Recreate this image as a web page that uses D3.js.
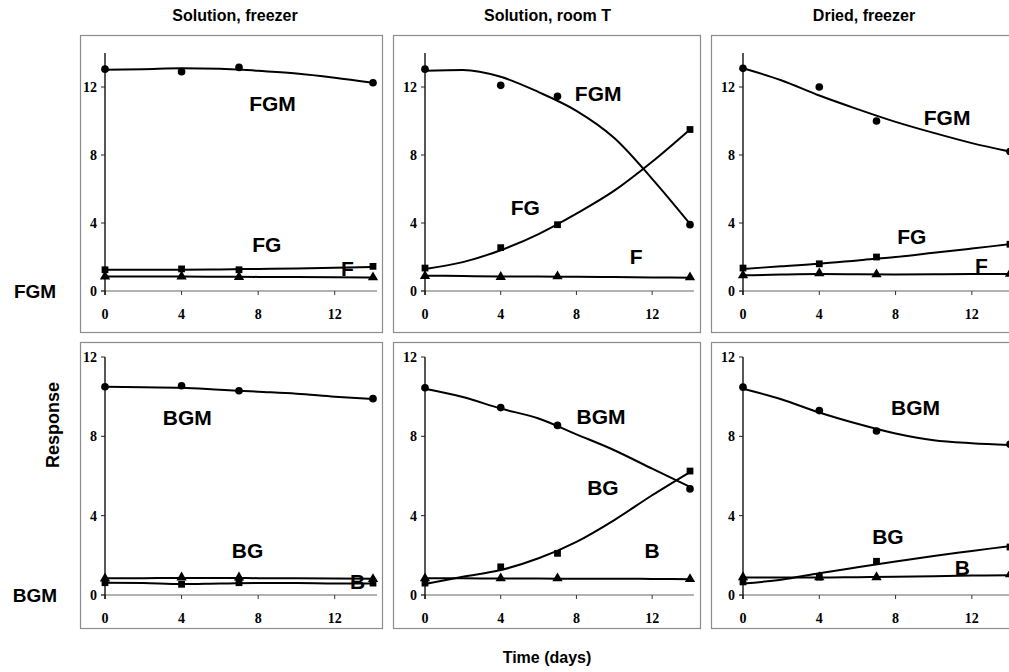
<!DOCTYPE html>
<html>
<head>
<meta charset="utf-8">
<script src="https://cdn.jsdelivr.net/npm/d3@7"></script>
<style>
  html, body { margin: 0; padding: 0; background: #fff; }
  svg { display: block; }
</style>
</head>
<body>
<svg id="chart" width="1009" height="672"></svg>
<script>
// sampling days of the measurements, and days at which the fitted curves were read
const days = [0, 4, 7, 14];
const fitDays = [0, 2, 4, 6, 8, 10, 12, 14];
const xTicks = [0, 4, 8, 12];
const yTicks = [0, 4, 8, 12];

const titles = ["Solution, freezer", "Solution, room T", "Dried, freezer"];
const rowNames = ["FGM", "BGM"];
const seriesNames = [["FGM", "FG", "F"], ["BGM", "BG", "B"]];

// FGM row: measured points [trisaccharide, disaccharide, mono]
const fgmSolFreezer = [[13.05, 12.9, 13.15, 12.25], [1.25, 1.3, 1.25, 1.45], [0.85, 0.85, 0.82, 0.8]];
const fgmSolRoom    = [[13.05, 12.1, 11.45, 3.9], [1.35, 2.55, 3.9, 9.5], [0.88, 0.82, 0.86, 0.8]];
const fgmDried      = [[13.1, 12.0, 10.0, 8.2], [1.35, 1.6, 2.0, 2.75], [0.92, 1.04, 0.98, 1.02]];
// FGM row: fitted curves at fitDays
const fgmSolFreezerFit = [[13.02, 13.05, 13.1, 13.08, 12.95, 12.8, 12.55, 12.25], [1.25, 1.25, 1.25, 1.27, 1.3, 1.33, 1.37, 1.42], [0.85, 0.85, 0.85, 0.84, 0.83, 0.82, 0.81, 0.8]];
const fgmSolRoomFit    = [[12.95, 13.0, 12.6, 11.7, 10.6, 9.0, 6.6, 3.95], [1.3, 1.7, 2.4, 3.35, 4.55, 5.9, 7.6, 9.5], [0.9, 0.88, 0.86, 0.85, 0.84, 0.82, 0.8, 0.78]];
const fgmDriedFit      = [[13.1, 12.4, 11.5, 10.7, 9.95, 9.3, 8.7, 8.2], [1.3, 1.45, 1.6, 1.8, 2.0, 2.25, 2.5, 2.75], [0.92, 0.97, 1.0, 0.98, 0.97, 0.98, 1.0, 1.0]];

// BGM row: measured points
const bgmSolFreezer = [[10.5, 10.55, 10.3, 9.9], [0.62, 0.54, 0.62, 0.6], [0.83, 0.88, 0.88, 0.8]];
const bgmSolRoom    = [[10.45, 9.45, 8.55, 5.35], [0.6, 1.42, 2.1, 6.25], [0.84, 0.84, 0.84, 0.8]];
const bgmDried      = [[10.48, 9.3, 8.27, 7.6], [0.66, 0.9, 1.7, 2.42], [0.9, 0.9, 0.9, 1.04]];
// BGM row: fitted curves
const bgmSolFreezerFit = [[10.5, 10.47, 10.45, 10.35, 10.25, 10.15, 10.0, 9.88], [0.62, 0.6, 0.55, 0.58, 0.6, 0.6, 0.58, 0.58], [0.85, 0.85, 0.86, 0.86, 0.85, 0.84, 0.83, 0.82]];
const bgmSolRoomFit    = [[10.4, 9.98, 9.4, 8.9, 8.1, 7.3, 6.37, 5.45], [0.55, 0.92, 1.26, 1.85, 2.68, 3.78, 5.03, 6.2], [0.84, 0.84, 0.83, 0.83, 0.82, 0.82, 0.81, 0.8]];
const bgmDriedFit      = [[10.4, 9.87, 9.2, 8.63, 8.14, 7.8, 7.65, 7.56], [0.58, 0.77, 1.1, 1.4, 1.69, 1.97, 2.22, 2.47], [0.88, 0.88, 0.88, 0.9, 0.92, 0.95, 0.98, 1.0]];

// where the series names sit, in [day, response]
const fgmLabelAt = [
  [[8.75, 11.06], [8.45, 2.76], [12.66, 1.35]],
  [[9.15, 11.65], [5.3, 4.94], [11.16, 2.06]],
  [[10.7, 10.2], [8.85, 3.2], [12.5, 1.5]]
];
const bgmLabelAt = [
  [[4.3, 8.94], [7.45, 2.27], [13.2, 0.66]],
  [[9.3, 9.0], [9.4, 5.4], [12.0, 2.27]],
  [[9.05, 9.44], [7.6, 2.93], [11.5, 1.41]]
];

const points = [[fgmSolFreezer, fgmSolRoom, fgmDried], [bgmSolFreezer, bgmSolRoom, bgmDried]];
const fits = [[fgmSolFreezerFit, fgmSolRoomFit, fgmDriedFit], [bgmSolFreezerFit, bgmSolRoomFit, bgmDriedFit]];
const labelAt = [fgmLabelAt, bgmLabelAt];

// layout
const cols = [
  {fx0: 80, fx1: 382, x0: 105, x1: 373},
  {fx0: 393, fx1: 700, x0: 425, x1: 690},
  {fx0: 711, fx1: 1040, x0: 743, x1: 1010}
];
const rows = [
  {fy0: 35, fy1: 332, y0: 291, y1: 53, ymax: 14},
  {fy0: 342, fy1: 628, y0: 595, y1: 357, ymax: 12}
];

const sans = "'Liberation Sans', Arial, sans-serif";
const serif = "'Liberation Serif', 'Times New Roman', serif";

const svg = d3.select("#chart");

const symbols = [d3.symbolCircle, d3.symbolSquare, d3.symbolTriangle];
const symbolSize = [46, 46, 46];

rows.forEach((r, ri) => {
  cols.forEach((c, ci) => {
    const x = d3.scaleLinear().domain([0, 14]).range([c.x0, c.x1]);
    const y = d3.scaleLinear().domain([0, r.ymax]).range([r.y0, r.y1]);
    const g = svg.append("g");

    g.append("rect")
        .attr("x", c.fx0 + 0.5).attr("y", r.fy0 + 0.5)
        .attr("width", c.fx1 - c.fx0).attr("height", r.fy1 - r.fy0)
        .attr("fill", "none").attr("stroke", "#8c8c8c").attr("stroke-width", 1.2);

    // x axis
    g.append("line")
        .attr("x1", x(0) - 4).attr("x2", x(14) + 4)
        .attr("y1", y(0)).attr("y2", y(0))
        .attr("stroke", "#666").attr("stroke-width", 1.2);
    g.selectAll(".xt").data(xTicks).join("line")
        .attr("x1", d => x(d)).attr("x2", d => x(d))
        .attr("y1", y(0)).attr("y2", y(0) + 4)
        .attr("stroke", "#333").attr("stroke-width", 1);
    g.selectAll(".xl").data(xTicks).join("text")
        .attr("x", d => x(d)).attr("y", y(0) + 28)
        .attr("text-anchor", "middle")
        .attr("font-family", serif).attr("font-weight", "bold").attr("font-size", 14)
        .text(d => d);

    // y axis
    g.append("line")
        .attr("x1", x(0)).attr("x2", x(0))
        .attr("y1", y(0) + 4).attr("y2", y(r.ymax))
        .attr("stroke", "#111").attr("stroke-width", 1.4);
    g.selectAll(".yt").data(yTicks).join("line")
        .attr("x1", x(0) - 4).attr("x2", x(0))
        .attr("y1", d => y(d)).attr("y2", d => y(d))
        .attr("stroke", "#222").attr("stroke-width", 1);
    g.selectAll(".yl").data(yTicks).join("text")
        .attr("x", x(0) - 8).attr("y", d => y(d) + 5)
        .attr("text-anchor", "end")
        .attr("font-family", serif).attr("font-weight", "bold").attr("font-size", 14)
        .text(d => d);

    // fitted curves
    const line = d3.line()
        .x((d, i) => x(fitDays[i]))
        .y(d => y(d))
        .curve(d3.curveMonotoneX);
    fits[ri][ci].forEach(f => {
      g.append("path")
          .attr("d", line(f))
          .attr("fill", "none").attr("stroke", "#000").attr("stroke-width", 2);
    });

    // measured points
    points[ri][ci].forEach((s, si) => {
      g.selectAll(null).data(s).join("path")
          .attr("transform", (d, i) => `translate(${x(days[i])},${y(d)})`)
          .attr("d", d3.symbol(symbols[si], symbolSize[si]))
          .attr("fill", "#000");
    });

    // series names
    labelAt[ri][ci].forEach((p, si) => {
      g.append("text")
          .attr("x", x(p[0])).attr("y", y(p[1]))
          .attr("dy", "0.36em")
          .attr("text-anchor", "middle")
          .attr("font-family", sans).attr("font-weight", "bold").attr("font-size", 21)
          .text(seriesNames[ri][si]);
    });
  });
});

// column titles
svg.selectAll(".title").data(titles).join("text")
    .attr("x", (d, i) => (cols[i].x0 + Math.min(cols[i].x1, 1009)) / 2 + [-4, -10, -12][i])
    .attr("y", 21)
    .attr("text-anchor", "middle")
    .attr("font-family", sans).attr("font-weight", "bold").attr("font-size", 16)
    .text(d => d);

// row labels
svg.selectAll(".row").data(rowNames).join("text")
    .attr("x", 35).attr("y", (d, i) => rows[i].y0 + 7)
    .attr("text-anchor", "middle")
    .attr("font-family", sans).attr("font-weight", "bold").attr("font-size", 19)
    .text(d => d);

svg.append("text")
    .attr("transform", "translate(59,425) rotate(-90)")
    .attr("text-anchor", "middle")
    .attr("font-family", sans).attr("font-weight", "bold").attr("font-size", 18)
    .text("Response");

svg.append("text")
    .attr("x", 547).attr("y", 663)
    .attr("text-anchor", "middle")
    .attr("font-family", sans).attr("font-weight", "bold").attr("font-size", 16)
    .text("Time (days)");
</script>
</body>
</html>
